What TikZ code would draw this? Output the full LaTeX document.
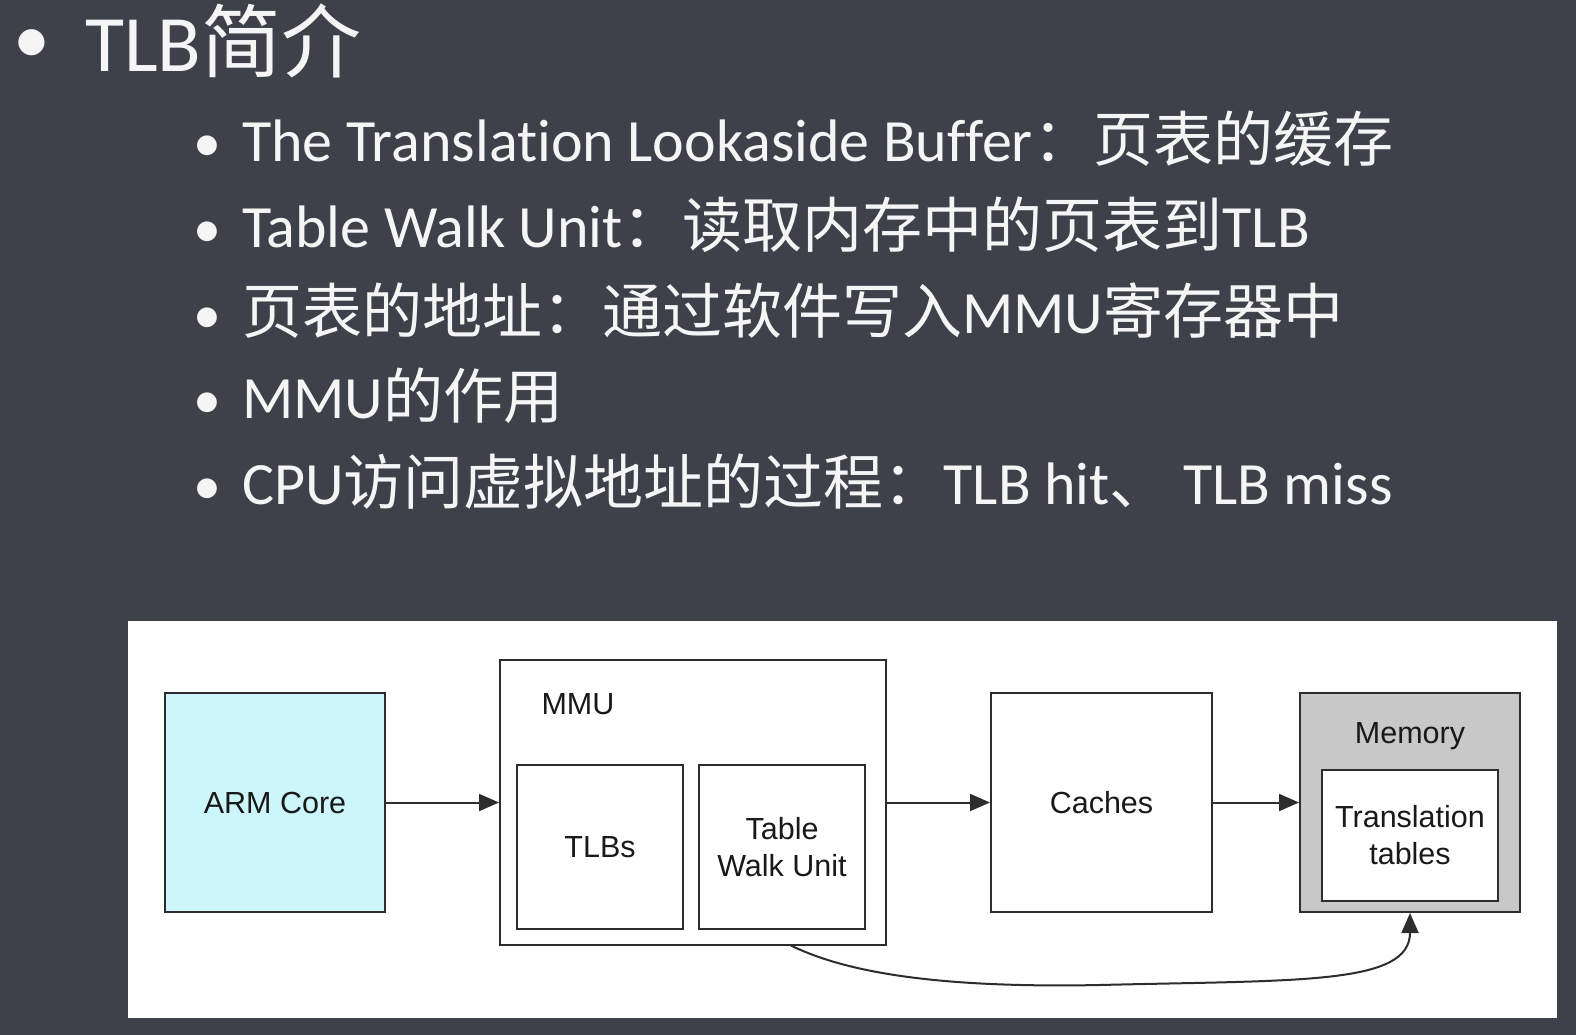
\documentclass[tikz,border=0pt]{standalone}
\usepackage{fontspec}
\setmainfont{Carlito}[Ligatures=NoCommon]
\newfontfamily\cjk{Noto Sans CJK SC}
\newfontfamily\arialfont{Liberation Sans}
\usetikzlibrary{arrows.meta}
\newcommand{\zh}[1]{{\cjk #1}}
\definecolor{slidebg}{RGB}{62,65,74}
\definecolor{slidetext}{RGB}{245,245,245}
\definecolor{boxline}{RGB}{45,45,45}
\definecolor{corefill}{RGB}{205,246,250}
\definecolor{memfill}{RGB}{200,200,200}
\tikzset{
    bullettext/.style={anchor=base west, inner sep=0pt, text=slidetext, font=\fontsize{60}{62}\selectfont},
    bulletdot/.style={anchor=base, inner sep=0pt, text=slidetext, font=\fontsize{56}{60}\selectfont},
    unitbox/.style={draw=boxline, line width=2pt, fill=white, inner sep=0pt, align=center,
        text=black!90, font=\arialfont\fontsize{30.5}{37}\selectfont},
    flow/.style={draw=boxline, line width=2pt, -{Triangle[length=20pt,width=17pt]}}
}
\begin{document}
\begin{tikzpicture}[x=1pt, y=-1pt]
    % Slide background
    \fill[slidebg] (0,0) rectangle (1576,1035);

    % Title
    \node[bulletdot, font=\fontsize{74}{78}\selectfont] (b0) at (32,64) {•};
    \node[bullettext, font=\fontsize{80}{84}\selectfont] (title) at (85,72) {TLB\zh{简介}};

    % Sub bullets
    \foreach \n/\y in {1/162,2/247.5,3/333,4/418.5,5/504}
        \node[bulletdot] (b\n) at (207,\y) {•};
    \node[bullettext] (l1) at (242,162) {The Translation Lookaside Buffer\zh{：页表的缓存}};
    \node[bullettext] (l2) at (242,247.5) {Table Walk Unit\zh{：读取内存中的页表到}TLB};
    \node[bullettext] (l3) at (242,333) {\zh{页表的地址：通过软件写入}MMU\zh{寄存器中}};
    \node[bullettext] (l4) at (242,418.5) {MMU\zh{的作用}};
    \node[bullettext] (l5) at (242,504) {CPU\zh{访问虚拟地址的过程：}TLB hit\zh{、} TLB miss};

    % Diagram panel
    \fill[white] (128,621) rectangle (1557,1018);

    % Units
    \node[unitbox, fill=corefill, minimum width=220pt, minimum height=219pt] (core) at (275,802.5) {ARM Core};
    \node[unitbox, minimum width=386pt, minimum height=285pt] (mmu) at (693,802.5) {};
    \node[inner sep=0pt, text=black!90, font=\arialfont\fontsize{30.5}{37}\selectfont] (mmulabel) at (578,704) {MMU};
    \node[unitbox, minimum width=166pt, minimum height=164pt] (tlbs) at (600,847) {TLBs};
    \node[unitbox, minimum width=166pt, minimum height=164pt] (walk) at (782,847) {Table\\Walk Unit};
    \node[unitbox, minimum width=221pt, minimum height=219pt] (caches) at (1101.5,802.5) {Caches};
    \node[unitbox, fill=memfill, minimum width=220pt, minimum height=219pt] (mem) at (1410,802.5) {};
    \node[inner sep=0pt, text=black!90, font=\arialfont\fontsize{30.5}{37}\selectfont] (memlabel) at (1410,736) {Memory};
    \node[unitbox, minimum width=176pt, minimum height=131pt] (tables) at (1410,835.5) {Translation\\tables};

    % Connections
    \draw[flow] (core.east) -- (mmu.west);
    \draw[flow] (mmu.east) -- (caches.west);
    \draw[flow] (caches.east) -- (mem.west);
    \coordinate (walkout) at (790,945);
    \draw[flow] (walkout) .. controls (850,975) and (950,988) .. (1100,985)
        .. controls (1300,980) and (1410,985) .. (mem.south);
\end{tikzpicture}
\end{document}
